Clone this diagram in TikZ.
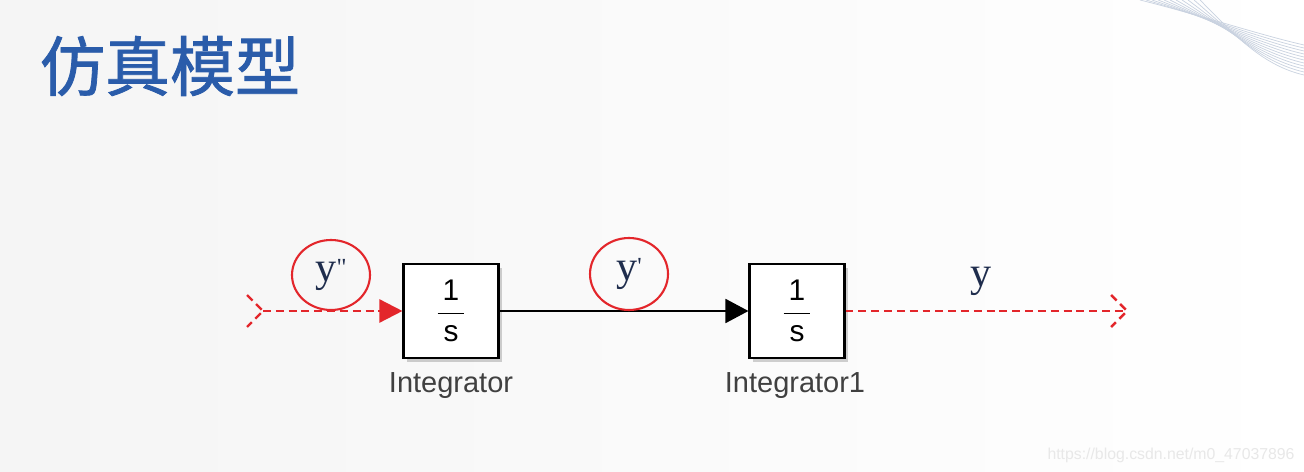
\documentclass[tikz,border=0pt]{standalone}
\usepackage{fontspec}
\setmainfont{Liberation Serif}
\setsansfont{Liberation Sans}
\newfontfamily\cjkfont[FakeBold=1.2]{Noto Sans CJK SC}
\newfontfamily\sigfont{Liberation Serif}
\usetikzlibrary{arrows.meta,shapes.geometric,shadows,calc}
\definecolor{titleblue}{HTML}{2A5CAA}
\definecolor{sigred}{HTML}{E3262B}
\definecolor{labelnavy}{HTML}{1F2D4D}
\definecolor{swooshgray}{HTML}{C9D2E0}

\begin{document}
\begin{tikzpicture}[x=0.02cm, y=-0.02cm,
        block/.style={draw=black, line width=1.2pt, fill=white, minimum width=1.9cm, minimum height=1.88cm,
            font=\sffamily\fontsize{17}{19}\selectfont,
            drop shadow={shadow xshift=2pt, shadow yshift=-2pt, opacity=0.3, fill=black!60}},
        blocklabel/.style={text=black!75, font=\sffamily\fontsize{16.5}{19}\selectfont},
        sigline/.style={draw=sigred, line width=1.4pt, dash pattern=on 4.5pt off 2.8pt},
        wire/.style={draw=black, line width=1.1pt},
        sig/.style={text=labelnavy, font=\sigfont\fontsize{24}{26}\selectfont},
        ring/.style={draw=sigred, line width=1.2pt, ellipse, inner sep=0pt, minimum width=1.56cm, minimum height=1.4cm}]
    \useasboundingbox (0,0) rectangle (1304,472);
    % background
    \shade[left color=black!4, right color=white] (0,0) rectangle (1304,472);
    \foreach \d in {0,3,...,30}
        \draw[swooshgray, line width=0.4pt] (1140+\d*2,0) .. controls (1200+\d,15+\d/2) and (1260,35+\d) .. (1304,45+\d);
    % title
    \node[text=titleblue, font=\cjkfont\fontsize{37}{42}\selectfont] (title) at (170,66) {仿真模型};
    % blocks
    \node[block] (int1) at (451,311) {$\displaystyle\frac{\mbox{\,1\,}}{\mbox{\,s\,}}$};
    \node[block] (int2) at (797,311) {$\displaystyle\frac{\mbox{\,1\,}}{\mbox{\,s\,}}$};
    \node[blocklabel] (lab1) at (451,386) {Integrator};
    \node[blocklabel] (lab2) at (795,386) {Integrator1};
    % ports
    \coordinate (in) at (263,311);
    \coordinate (out) at (1127,311);
    \draw[sigline] ($(in)+(-16,-16)$) -- (in) -- ($(in)+(-16,16)$);
    \draw[sigline, -{Triangle[length=0.46cm, width=0.46cm, sigred]}] (in) -- (int1.west);
    \draw[wire, -{Triangle[length=0.46cm, width=0.48cm]}] (int1.east) -- (int2.west);
    \draw[sigline] (int2.east) -- (out);
    \draw[sigline] ($(out)+(-16,-16)$) -- (out) -- ($(out)+(-16,16)$);
    % signal names
    \node[ring, sig] (ypp) at (331,275) {y\raisebox{3pt}{\fontsize{14}{14}\selectfont"}};
    \node[ring, sig, minimum height=1.44cm] (yp) at (629,274) {y\raisebox{3pt}{\fontsize{14}{14}\selectfont'}};
    \node[sig] (y) at (981,281) {y};
    % watermark
    \node[text=black!9, font=\sffamily\fontsize{9}{10}\selectfont] (mark) at (1171,455) {https://blog.csdn.net/m0\_47037896};
\end{tikzpicture}
\end{document}
